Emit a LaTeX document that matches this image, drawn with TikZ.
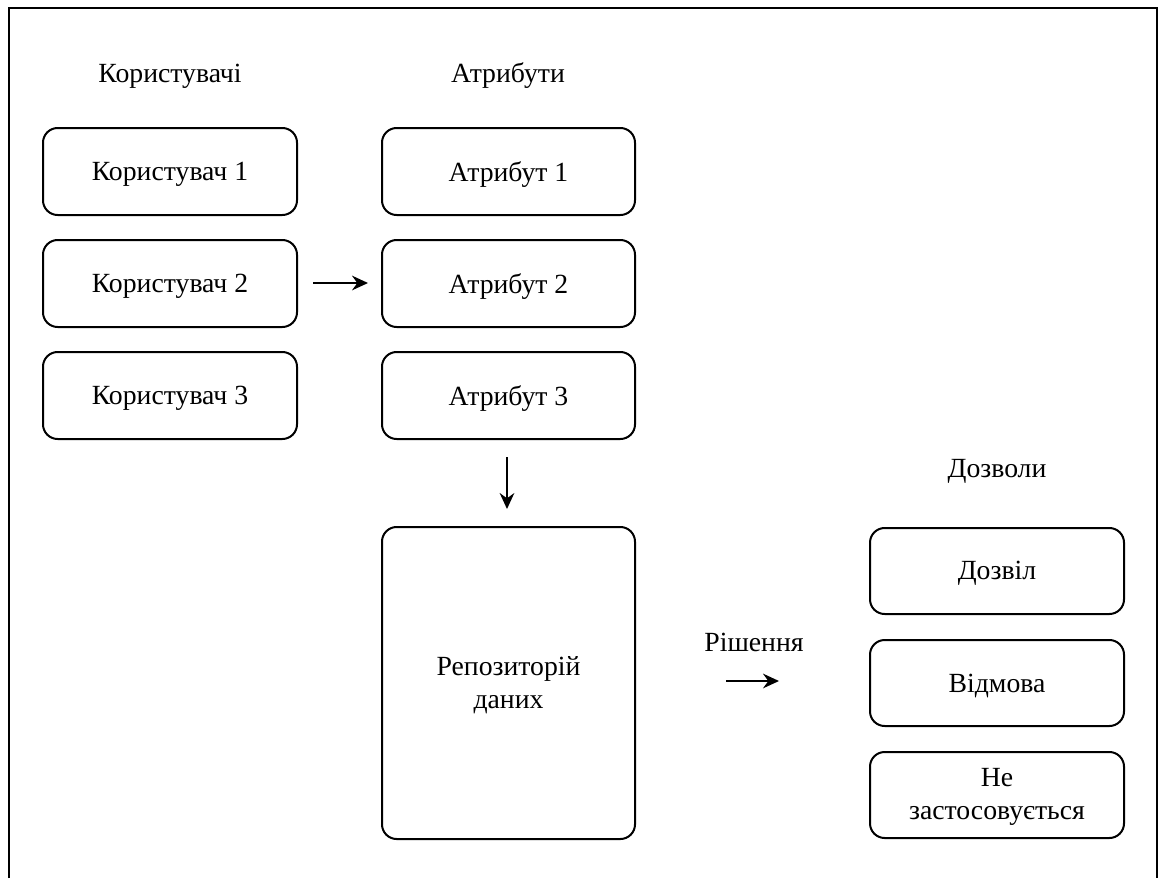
\documentclass[tikz,border=0pt]{standalone}
\usepackage{fontspec}
\setmainfont{Liberation Serif}
\usetikzlibrary{arrows.meta}
\begin{document}
\begin{tikzpicture}[x=0.75pt,y=-0.75pt,
  box/.style={draw,line width=1.5pt,rounded corners=11pt},
  lbl/.style={font=\fontsize{20.8}{24.5}\selectfont,align=center},
  flow/.style={-{Stealth[length=12pt,width=11pt,inset=4pt]},line width=1.3pt}]
\useasboundingbox (0,0) rectangle (1162,878);
% outer frame, open at the bottom edge of the page
\draw[line width=1.6pt] (9,878) -- (9,8) -- (1157,8) -- (1157,878);

% column headings
\node[lbl] (hu) at (170,76) {Користувачі};
\node[lbl] (ha) at (508,76) {Атрибути};
\node[lbl] (hp) at (997,471) {Дозволи};

% users
\draw[box] (43,128) rectangle (297,215) node[midway,lbl,yshift=-2pt] (u1) {Користувач 1};
\draw[box] (43,240) rectangle (297,327) node[midway,lbl,yshift=-2pt] (u2) {Користувач 2};
\draw[box] (43,352) rectangle (297,439) node[midway,lbl,yshift=-2pt] (u3) {Користувач 3};

% attributes
\draw[box] (382,128) rectangle (635,215) node[midway,lbl,yshift=-2pt] (a1) {Атрибут 1};
\draw[box] (382,240) rectangle (635,327) node[midway,lbl,yshift=-2pt] (a2) {Атрибут 2};
\draw[box] (382,352) rectangle (635,439) node[midway,lbl,yshift=-2pt] (a3) {Атрибут 3};

% repository
\draw[box] (382,527) rectangle (635,839) node[midway,lbl,yshift=-1.5pt] (rep) {Репозиторій\\даних};

% permissions
\draw[box] (870,528) rectangle (1124,614) node[midway,lbl,yshift=-2pt] (p1) {Дозвіл};
\draw[box] (870,640) rectangle (1124,726) node[midway,lbl,yshift=-2pt] (p2) {Відмова};
\draw[box] (870,752) rectangle (1124,838) node[midway,lbl,yshift=-1.5pt] (p3) {Не\\застосовується};

% decision label
\node[lbl] (dec) at (754,642) {Рішення};

% arrows
\coordinate (s1) at (313,283); \coordinate (e1) at (368,283);
\coordinate (s2) at (507,457); \coordinate (e2) at (507,509);
\coordinate (s3) at (726,681); \coordinate (e3) at (779,681);
\draw[flow] (s1) -- (e1);
\draw[flow] (s2) -- (e2);
\draw[flow] (s3) -- (e3);
\end{tikzpicture}
\end{document}
